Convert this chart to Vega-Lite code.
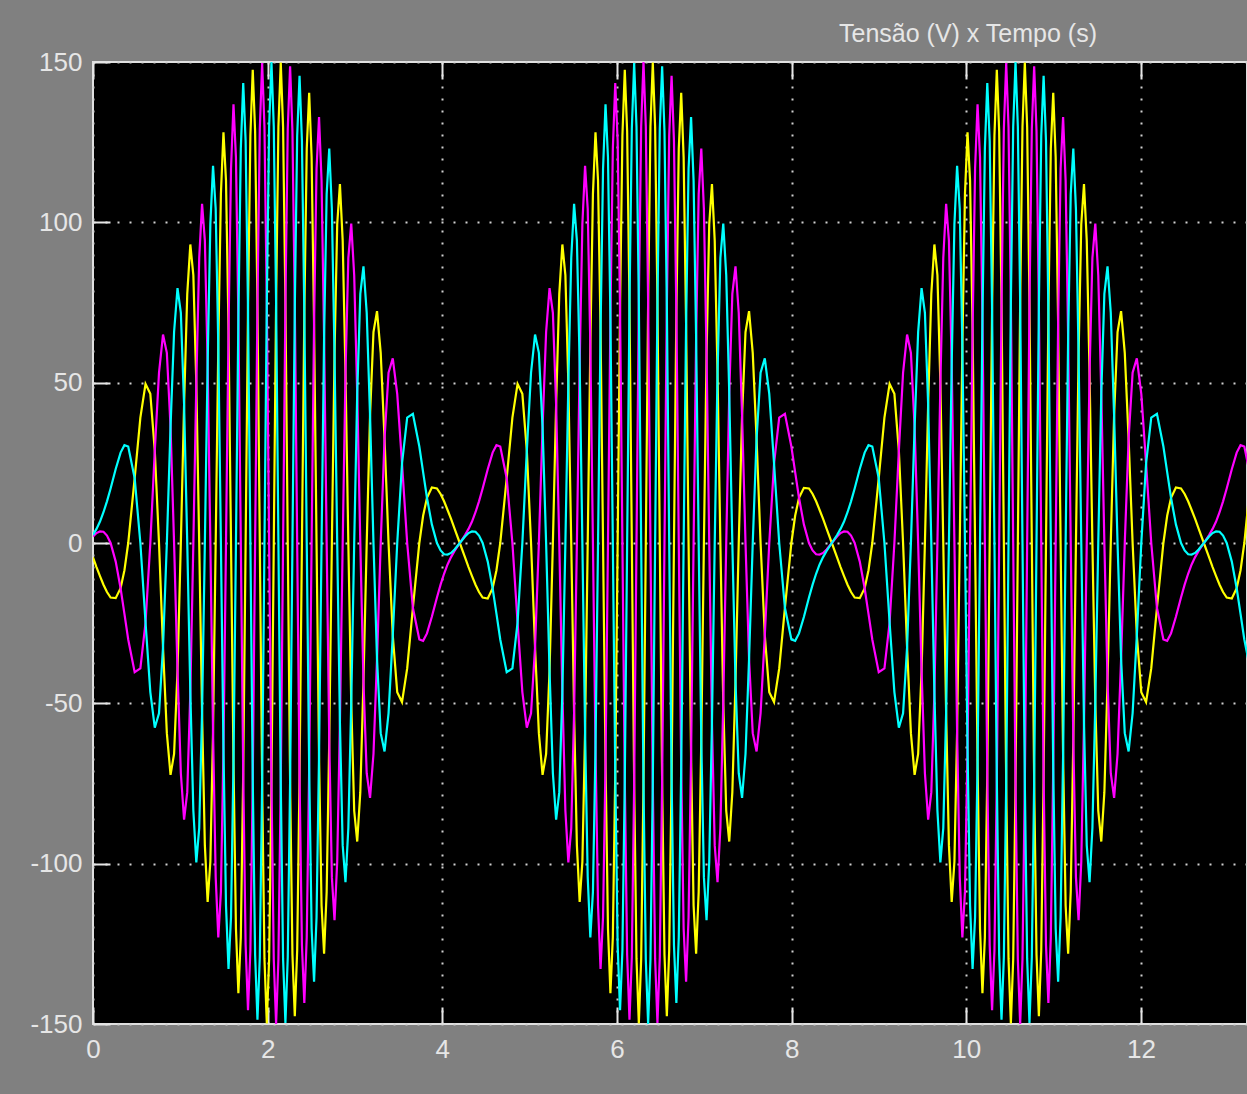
{
"$schema":"https://vega.github.io/schema/vega-lite/v6.json",
"width":1154,"height":962,
"autosize":{"type":"none"},
"padding":{"left":93,"top":62,"right":0,"bottom":70},
"background":"#808080",
"title":{"text":"Tensão (V) x Tempo (s)","anchor":"end","frame":"group","dx":-150,"dy":37,"offset":19,"baseline":"alphabetic","fontSize":25,"font":"Liberation Sans","fontWeight":"normal","color":"#E6E6E6"},
"config":{"view":{"fill":"#000000","stroke":"#E0E0E0","strokeWidth":2}},
"data":{"values":[
{"t":0,"c":2.5,"m":2,"y":-4.5},
{"t":0.04,"c":4.4,"m":3.1,"y":-7.5},
{"t":0.08,"c":6.7,"m":3.6,"y":-10.3},
{"t":0.12,"c":9.6,"m":3.5,"y":-13},
{"t":0.16,"c":13,"m":2.3,"y":-15.3},
{"t":0.2016,"c":17,"m":0,"y":-17},
{"t":0.26,"c":23.1,"m":-5.8,"y":-17.2},
{"t":0.3159,"c":28.2,"m":-14.1,"y":-14.1},
{"t":0.36,"c":30.5,"m":-22.1,"y":-8.5},
{"t":0.4033,"c":30.1,"m":-30.1,"y":0},
{"t":0.4772,"c":20.2,"m":-40.3,"y":20.2},
{"t":0.5424,"c":0,"m":-39.1,"y":39.1},
{"t":0.6016,"c":-24.8,"m":-24.8,"y":49.6},
{"t":0.6564,"c":-46.5,"m":0,"y":46.5},
{"t":0.7075,"c":-57.6,"m":28.8,"y":28.8},
{"t":0.7558,"c":-53.1,"m":53.1,"y":0},
{"t":0.8017,"c":-32.5,"m":65,"y":-32.5},
{"t":0.8456,"c":0,"m":59.3,"y":-59.3},
{"t":0.8878,"c":36.2,"m":36.2,"y":-72.3},
{"t":0.9284,"c":65.8,"m":0,"y":-65.8},
{"t":0.9677,"c":79.5,"m":-39.8,"y":-39.8},
{"t":1.0059,"c":71.8,"m":-71.8,"y":0},
{"t":1.043,"c":43.2,"m":-86.3,"y":43.2},
{"t":1.0792,"c":0,"m":-77.7,"y":77.7},
{"t":1.1145,"c":-46.6,"m":-46.6,"y":93.1},
{"t":1.1491,"c":-83.5,"m":0,"y":83.5},
{"t":1.183,"c":-99.6,"m":49.8,"y":49.8},
{"t":1.2162,"c":-88.9,"m":88.9,"y":0},
{"t":1.2488,"c":-52.9,"m":105.8,"y":-52.9},
{"t":1.2809,"c":0,"m":94.3,"y":-94.3},
{"t":1.3126,"c":56,"m":56,"y":-111.9},
{"t":1.3437,"c":99.4,"m":0,"y":-99.4},
{"t":1.3745,"c":117.6,"m":-58.8,"y":-58.8},
{"t":1.4048,"c":104.2,"m":-104.2,"y":0},
{"t":1.4348,"c":61.5,"m":-123,"y":61.5},
{"t":1.4645,"c":0,"m":-108.8,"y":108.8},
{"t":1.4939,"c":-64.1,"m":-64.1,"y":128.1},
{"t":1.5229,"c":-113,"m":0,"y":113},
{"t":1.5518,"c":-132.8,"m":66.4,"y":66.4},
{"t":1.5803,"c":-116.7,"m":116.7,"y":0},
{"t":1.6087,"c":-68.4,"m":136.8,"y":-68.4},
{"t":1.6368,"c":0,"m":120.2,"y":-120.2},
{"t":1.6647,"c":70.2,"m":70.2,"y":-140.4},
{"t":1.6925,"c":122.9,"m":0,"y":-122.9},
{"t":1.7201,"c":143.4,"m":-71.7,"y":-71.7},
{"t":1.7476,"c":125.4,"m":-125.4,"y":0},
{"t":1.7749,"c":72.9,"m":-145.7,"y":72.9},
{"t":1.8021,"c":0,"m":-127,"y":127},
{"t":1.8292,"c":-73.8,"m":-73.8,"y":147.6},
{"t":1.8562,"c":-128.4,"m":0,"y":128.4},
{"t":1.8831,"c":-148.7,"m":74.4,"y":74.4},
{"t":1.9099,"c":-129.2,"m":129.2,"y":0},
{"t":1.9367,"c":-74.9,"m":149.7,"y":-74.9},
{"t":1.9634,"c":0,"m":129.7,"y":-129.7},
{"t":1.9901,"c":74.9,"m":74.9,"y":-149.8},
{"t":2.0168,"c":129.8,"m":0,"y":-129.8},
{"t":2.0434,"c":150,"m":-75,"y":-75},
{"t":2.07,"c":129.9,"m":-129.9,"y":0},
{"t":2.0966,"c":75,"m":-150,"y":75},
{"t":2.1232,"c":0,"m":-129.8,"y":129.8},
{"t":2.1499,"c":-74.9,"m":-74.9,"y":149.8},
{"t":2.1766,"c":-129.7,"m":0,"y":129.7},
{"t":2.2033,"c":-149.7,"m":74.9,"y":74.9},
{"t":2.2301,"c":-129.2,"m":129.2,"y":0},
{"t":2.2569,"c":-74.4,"m":148.7,"y":-74.4},
{"t":2.2838,"c":0,"m":128.4,"y":-128.4},
{"t":2.3108,"c":73.8,"m":73.8,"y":-147.6},
{"t":2.3379,"c":127,"m":0,"y":-127},
{"t":2.3651,"c":145.7,"m":-72.9,"y":-72.9},
{"t":2.3924,"c":125.4,"m":-125.4,"y":0},
{"t":2.4199,"c":71.7,"m":-143.4,"y":71.7},
{"t":2.4475,"c":0,"m":-122.9,"y":122.9},
{"t":2.4753,"c":-70.2,"m":-70.2,"y":140.4},
{"t":2.5032,"c":-120.2,"m":0,"y":120.2},
{"t":2.5313,"c":-136.8,"m":68.4,"y":68.4},
{"t":2.5597,"c":-116.7,"m":116.7,"y":0},
{"t":2.5882,"c":-66.4,"m":132.8,"y":-66.4},
{"t":2.6171,"c":0,"m":113,"y":-113},
{"t":2.6461,"c":64.1,"m":64.1,"y":-128.1},
{"t":2.6755,"c":108.8,"m":0,"y":-108.8},
{"t":2.7052,"c":123,"m":-61.5,"y":-61.5},
{"t":2.7352,"c":104.2,"m":-104.2,"y":0},
{"t":2.7655,"c":58.8,"m":-117.6,"y":58.8},
{"t":2.7963,"c":0,"m":-99.4,"y":99.4},
{"t":2.8274,"c":-56,"m":-56,"y":111.9},
{"t":2.8591,"c":-94.3,"m":0,"y":94.3},
{"t":2.8912,"c":-105.8,"m":52.9,"y":52.9},
{"t":2.9238,"c":-88.9,"m":88.9,"y":0},
{"t":2.957,"c":-49.8,"m":99.6,"y":-49.8},
{"t":2.9909,"c":0,"m":83.5,"y":-83.5},
{"t":3.0255,"c":46.6,"m":46.6,"y":-93.1},
{"t":3.0608,"c":77.7,"m":0,"y":-77.7},
{"t":3.097,"c":86.3,"m":-43.2,"y":-43.2},
{"t":3.1341,"c":71.8,"m":-71.8,"y":0},
{"t":3.1723,"c":39.8,"m":-79.5,"y":39.8},
{"t":3.2116,"c":0,"m":-65.8,"y":65.8},
{"t":3.2522,"c":-36.2,"m":-36.2,"y":72.3},
{"t":3.2944,"c":-59.3,"m":0,"y":59.3},
{"t":3.3383,"c":-65,"m":32.5,"y":32.5},
{"t":3.3842,"c":-53.1,"m":53.1,"y":0},
{"t":3.4325,"c":-28.8,"m":57.6,"y":-28.8},
{"t":3.4836,"c":0,"m":46.5,"y":-46.5},
{"t":3.5384,"c":24.8,"m":24.8,"y":-49.6},
{"t":3.5976,"c":39.1,"m":0,"y":-39.1},
{"t":3.6628,"c":40.3,"m":-20.2,"y":-20.2},
{"t":3.7367,"c":30.1,"m":-30.1,"y":0},
{"t":3.78,"c":22.1,"m":-30.5,"y":8.5},
{"t":3.8241,"c":14.1,"m":-28.2,"y":14.1},
{"t":3.88,"c":5.8,"m":-23,"y":17.3},
{"t":3.9384,"c":0,"m":-17,"y":17},
{"t":3.98,"c":-2.3,"m":-13,"y":15.3},
{"t":4.02,"c":-3.5,"m":-9.6,"y":13},
{"t":4.06,"c":-3.6,"m":-6.7,"y":10.3},
{"t":4.1,"c":-3.1,"m":-4.4,"y":7.5},
{"t":4.14,"c":-2,"m":-2.5,"y":4.5},
{"t":4.2,"c":0,"m":0,"y":0},
{"t":4.26,"c":2,"m":2.5,"y":-4.5},
{"t":4.3,"c":3.1,"m":4.4,"y":-7.5},
{"t":4.34,"c":3.6,"m":6.7,"y":-10.3},
{"t":4.38,"c":3.5,"m":9.6,"y":-13},
{"t":4.42,"c":2.3,"m":13,"y":-15.3},
{"t":4.4616,"c":0,"m":17,"y":-17},
{"t":4.52,"c":-5.8,"m":23,"y":-17.3},
{"t":4.5759,"c":-14.1,"m":28.2,"y":-14.1},
{"t":4.62,"c":-22.1,"m":30.5,"y":-8.5},
{"t":4.6633,"c":-30.1,"m":30.1,"y":0},
{"t":4.7372,"c":-40.3,"m":20.2,"y":20.2},
{"t":4.8024,"c":-39.1,"m":0,"y":39.1},
{"t":4.8616,"c":-24.8,"m":-24.8,"y":49.6},
{"t":4.9164,"c":0,"m":-46.5,"y":46.5},
{"t":4.9675,"c":28.8,"m":-57.6,"y":28.8},
{"t":5.0158,"c":53.1,"m":-53.1,"y":0},
{"t":5.0617,"c":65,"m":-32.5,"y":-32.5},
{"t":5.1056,"c":59.3,"m":0,"y":-59.3},
{"t":5.1478,"c":36.2,"m":36.2,"y":-72.3},
{"t":5.1884,"c":0,"m":65.8,"y":-65.8},
{"t":5.2277,"c":-39.8,"m":79.5,"y":-39.8},
{"t":5.2659,"c":-71.8,"m":71.8,"y":0},
{"t":5.303,"c":-86.3,"m":43.2,"y":43.2},
{"t":5.3392,"c":-77.7,"m":0,"y":77.7},
{"t":5.3745,"c":-46.6,"m":-46.6,"y":93.1},
{"t":5.4091,"c":0,"m":-83.5,"y":83.5},
{"t":5.443,"c":49.8,"m":-99.6,"y":49.8},
{"t":5.4762,"c":88.9,"m":-88.9,"y":0},
{"t":5.5088,"c":105.8,"m":-52.9,"y":-52.9},
{"t":5.5409,"c":94.3,"m":0,"y":-94.3},
{"t":5.5726,"c":56,"m":56,"y":-111.9},
{"t":5.6037,"c":0,"m":99.4,"y":-99.4},
{"t":5.6345,"c":-58.8,"m":117.6,"y":-58.8},
{"t":5.6648,"c":-104.2,"m":104.2,"y":0},
{"t":5.6948,"c":-123,"m":61.5,"y":61.5},
{"t":5.7245,"c":-108.8,"m":0,"y":108.8},
{"t":5.7539,"c":-64.1,"m":-64.1,"y":128.1},
{"t":5.7829,"c":0,"m":-113,"y":113},
{"t":5.8118,"c":66.4,"m":-132.8,"y":66.4},
{"t":5.8403,"c":116.7,"m":-116.7,"y":0},
{"t":5.8687,"c":136.8,"m":-68.4,"y":-68.4},
{"t":5.8968,"c":120.2,"m":0,"y":-120.2},
{"t":5.9247,"c":70.2,"m":70.2,"y":-140.4},
{"t":5.9525,"c":0,"m":122.9,"y":-122.9},
{"t":5.9801,"c":-71.7,"m":143.4,"y":-71.7},
{"t":6.0076,"c":-125.4,"m":125.4,"y":0},
{"t":6.0349,"c":-145.7,"m":72.9,"y":72.9},
{"t":6.0621,"c":-127,"m":0,"y":127},
{"t":6.0892,"c":-73.8,"m":-73.8,"y":147.6},
{"t":6.1162,"c":0,"m":-128.4,"y":128.4},
{"t":6.1431,"c":74.4,"m":-148.7,"y":74.4},
{"t":6.1699,"c":129.2,"m":-129.2,"y":0},
{"t":6.1967,"c":149.7,"m":-74.9,"y":-74.9},
{"t":6.2234,"c":129.7,"m":0,"y":-129.7},
{"t":6.2501,"c":74.9,"m":74.9,"y":-149.8},
{"t":6.2768,"c":0,"m":129.8,"y":-129.8},
{"t":6.3034,"c":-75,"m":150,"y":-75},
{"t":6.33,"c":-129.9,"m":129.9,"y":0},
{"t":6.3566,"c":-150,"m":75,"y":75},
{"t":6.3832,"c":-129.8,"m":0,"y":129.8},
{"t":6.4099,"c":-74.9,"m":-74.9,"y":149.8},
{"t":6.4366,"c":0,"m":-129.7,"y":129.7},
{"t":6.4633,"c":74.9,"m":-149.7,"y":74.9},
{"t":6.4901,"c":129.2,"m":-129.2,"y":0},
{"t":6.5169,"c":148.7,"m":-74.4,"y":-74.4},
{"t":6.5438,"c":128.4,"m":0,"y":-128.4},
{"t":6.5708,"c":73.8,"m":73.8,"y":-147.6},
{"t":6.5979,"c":0,"m":127,"y":-127},
{"t":6.6251,"c":-72.9,"m":145.7,"y":-72.9},
{"t":6.6524,"c":-125.4,"m":125.4,"y":0},
{"t":6.6799,"c":-143.4,"m":71.7,"y":71.7},
{"t":6.7075,"c":-122.9,"m":0,"y":122.9},
{"t":6.7353,"c":-70.2,"m":-70.2,"y":140.4},
{"t":6.7632,"c":0,"m":-120.2,"y":120.2},
{"t":6.7913,"c":68.4,"m":-136.8,"y":68.4},
{"t":6.8197,"c":116.7,"m":-116.7,"y":0},
{"t":6.8482,"c":132.8,"m":-66.4,"y":-66.4},
{"t":6.8771,"c":113,"m":0,"y":-113},
{"t":6.9061,"c":64.1,"m":64.1,"y":-128.1},
{"t":6.9355,"c":0,"m":108.8,"y":-108.8},
{"t":6.9652,"c":-61.5,"m":123,"y":-61.5},
{"t":6.9952,"c":-104.2,"m":104.2,"y":0},
{"t":7.0255,"c":-117.6,"m":58.8,"y":58.8},
{"t":7.0563,"c":-99.4,"m":0,"y":99.4},
{"t":7.0874,"c":-56,"m":-56,"y":111.9},
{"t":7.1191,"c":0,"m":-94.3,"y":94.3},
{"t":7.1512,"c":52.9,"m":-105.8,"y":52.9},
{"t":7.1838,"c":88.9,"m":-88.9,"y":0},
{"t":7.217,"c":99.6,"m":-49.8,"y":-49.8},
{"t":7.2509,"c":83.5,"m":0,"y":-83.5},
{"t":7.2855,"c":46.6,"m":46.6,"y":-93.1},
{"t":7.3208,"c":0,"m":77.7,"y":-77.7},
{"t":7.357,"c":-43.2,"m":86.3,"y":-43.2},
{"t":7.3941,"c":-71.8,"m":71.8,"y":0},
{"t":7.4323,"c":-79.5,"m":39.8,"y":39.8},
{"t":7.4716,"c":-65.8,"m":0,"y":65.8},
{"t":7.5122,"c":-36.2,"m":-36.2,"y":72.3},
{"t":7.5544,"c":0,"m":-59.3,"y":59.3},
{"t":7.5983,"c":32.5,"m":-65,"y":32.5},
{"t":7.6442,"c":53.1,"m":-53.1,"y":0},
{"t":7.6925,"c":57.6,"m":-28.8,"y":-28.8},
{"t":7.7436,"c":46.5,"m":0,"y":-46.5},
{"t":7.7984,"c":24.8,"m":24.8,"y":-49.6},
{"t":7.8576,"c":0,"m":39.1,"y":-39.1},
{"t":7.9228,"c":-20.2,"m":40.3,"y":-20.2},
{"t":7.9967,"c":-30.1,"m":30.1,"y":0},
{"t":8.04,"c":-30.5,"m":22.1,"y":8.5},
{"t":8.0841,"c":-28.2,"m":14.1,"y":14.1},
{"t":8.14,"c":-23.1,"m":5.8,"y":17.2},
{"t":8.1984,"c":-17,"m":0,"y":17},
{"t":8.24,"c":-13,"m":-2.3,"y":15.3},
{"t":8.28,"c":-9.6,"m":-3.5,"y":13},
{"t":8.32,"c":-6.7,"m":-3.6,"y":10.3},
{"t":8.36,"c":-4.4,"m":-3.1,"y":7.5},
{"t":8.4,"c":-2.5,"m":-2,"y":4.5},
{"t":8.46,"c":0,"m":0,"y":0},
{"t":8.52,"c":2.5,"m":2,"y":-4.5},
{"t":8.56,"c":4.4,"m":3.1,"y":-7.5},
{"t":8.6,"c":6.7,"m":3.6,"y":-10.3},
{"t":8.64,"c":9.6,"m":3.5,"y":-13},
{"t":8.68,"c":13,"m":2.3,"y":-15.3},
{"t":8.7216,"c":17,"m":0,"y":-17},
{"t":8.78,"c":23.1,"m":-5.8,"y":-17.2},
{"t":8.8359,"c":28.2,"m":-14.1,"y":-14.1},
{"t":8.88,"c":30.5,"m":-22.1,"y":-8.5},
{"t":8.9233,"c":30.1,"m":-30.1,"y":0},
{"t":8.9972,"c":20.2,"m":-40.3,"y":20.2},
{"t":9.0624,"c":0,"m":-39.1,"y":39.1},
{"t":9.1216,"c":-24.8,"m":-24.8,"y":49.6},
{"t":9.1764,"c":-46.5,"m":0,"y":46.5},
{"t":9.2275,"c":-57.6,"m":28.8,"y":28.8},
{"t":9.2758,"c":-53.1,"m":53.1,"y":0},
{"t":9.3217,"c":-32.5,"m":65,"y":-32.5},
{"t":9.3656,"c":0,"m":59.3,"y":-59.3},
{"t":9.4078,"c":36.2,"m":36.2,"y":-72.3},
{"t":9.4484,"c":65.8,"m":0,"y":-65.8},
{"t":9.4877,"c":79.5,"m":-39.8,"y":-39.8},
{"t":9.5259,"c":71.8,"m":-71.8,"y":0},
{"t":9.563,"c":43.2,"m":-86.3,"y":43.2},
{"t":9.5992,"c":0,"m":-77.7,"y":77.7},
{"t":9.6345,"c":-46.6,"m":-46.6,"y":93.1},
{"t":9.6691,"c":-83.5,"m":0,"y":83.5},
{"t":9.703,"c":-99.6,"m":49.8,"y":49.8},
{"t":9.7362,"c":-88.9,"m":88.9,"y":0},
{"t":9.7688,"c":-52.9,"m":105.8,"y":-52.9},
{"t":9.8009,"c":0,"m":94.3,"y":-94.3},
{"t":9.8326,"c":56,"m":56,"y":-111.9},
{"t":9.8637,"c":99.4,"m":0,"y":-99.4},
{"t":9.8945,"c":117.6,"m":-58.8,"y":-58.8},
{"t":9.9248,"c":104.2,"m":-104.2,"y":0},
{"t":9.9548,"c":61.5,"m":-123,"y":61.5},
{"t":9.9845,"c":0,"m":-108.8,"y":108.8},
{"t":10.0139,"c":-64.1,"m":-64.1,"y":128.1},
{"t":10.0429,"c":-113,"m":0,"y":113},
{"t":10.0718,"c":-132.8,"m":66.4,"y":66.4},
{"t":10.1003,"c":-116.7,"m":116.7,"y":0},
{"t":10.1287,"c":-68.4,"m":136.8,"y":-68.4},
{"t":10.1568,"c":0,"m":120.2,"y":-120.2},
{"t":10.1847,"c":70.2,"m":70.2,"y":-140.4},
{"t":10.2125,"c":122.9,"m":0,"y":-122.9},
{"t":10.2401,"c":143.4,"m":-71.7,"y":-71.7},
{"t":10.2676,"c":125.4,"m":-125.4,"y":0},
{"t":10.2949,"c":72.9,"m":-145.7,"y":72.9},
{"t":10.3221,"c":0,"m":-127,"y":127},
{"t":10.3492,"c":-73.8,"m":-73.8,"y":147.6},
{"t":10.3762,"c":-128.4,"m":0,"y":128.4},
{"t":10.4031,"c":-148.7,"m":74.4,"y":74.4},
{"t":10.4299,"c":-129.2,"m":129.2,"y":0},
{"t":10.4567,"c":-74.9,"m":149.7,"y":-74.9},
{"t":10.4834,"c":0,"m":129.7,"y":-129.7},
{"t":10.5101,"c":74.9,"m":74.9,"y":-149.8},
{"t":10.5368,"c":129.8,"m":0,"y":-129.8},
{"t":10.5634,"c":150,"m":-75,"y":-75},
{"t":10.59,"c":129.9,"m":-129.9,"y":0},
{"t":10.6166,"c":75,"m":-150,"y":75},
{"t":10.6432,"c":0,"m":-129.8,"y":129.8},
{"t":10.6699,"c":-74.9,"m":-74.9,"y":149.8},
{"t":10.6966,"c":-129.7,"m":0,"y":129.7},
{"t":10.7233,"c":-149.7,"m":74.9,"y":74.9},
{"t":10.7501,"c":-129.2,"m":129.2,"y":0},
{"t":10.7769,"c":-74.4,"m":148.7,"y":-74.4},
{"t":10.8038,"c":0,"m":128.4,"y":-128.4},
{"t":10.8308,"c":73.8,"m":73.8,"y":-147.6},
{"t":10.8579,"c":127,"m":0,"y":-127},
{"t":10.8851,"c":145.7,"m":-72.9,"y":-72.9},
{"t":10.9124,"c":125.4,"m":-125.4,"y":0},
{"t":10.9399,"c":71.7,"m":-143.4,"y":71.7},
{"t":10.9675,"c":0,"m":-122.9,"y":122.9},
{"t":10.9953,"c":-70.2,"m":-70.2,"y":140.4},
{"t":11.0232,"c":-120.2,"m":0,"y":120.2},
{"t":11.0513,"c":-136.8,"m":68.4,"y":68.4},
{"t":11.0797,"c":-116.7,"m":116.7,"y":0},
{"t":11.1082,"c":-66.4,"m":132.8,"y":-66.4},
{"t":11.1371,"c":0,"m":113,"y":-113},
{"t":11.1661,"c":64.1,"m":64.1,"y":-128.1},
{"t":11.1955,"c":108.8,"m":0,"y":-108.8},
{"t":11.2252,"c":123,"m":-61.5,"y":-61.5},
{"t":11.2552,"c":104.2,"m":-104.2,"y":0},
{"t":11.2855,"c":58.8,"m":-117.6,"y":58.8},
{"t":11.3163,"c":0,"m":-99.4,"y":99.4},
{"t":11.3474,"c":-56,"m":-56,"y":111.9},
{"t":11.3791,"c":-94.3,"m":0,"y":94.3},
{"t":11.4112,"c":-105.8,"m":52.9,"y":52.9},
{"t":11.4438,"c":-88.9,"m":88.9,"y":0},
{"t":11.477,"c":-49.8,"m":99.6,"y":-49.8},
{"t":11.5109,"c":0,"m":83.5,"y":-83.5},
{"t":11.5455,"c":46.6,"m":46.6,"y":-93.1},
{"t":11.5808,"c":77.7,"m":0,"y":-77.7},
{"t":11.617,"c":86.3,"m":-43.2,"y":-43.2},
{"t":11.6541,"c":71.8,"m":-71.8,"y":0},
{"t":11.6923,"c":39.8,"m":-79.5,"y":39.8},
{"t":11.7316,"c":0,"m":-65.8,"y":65.8},
{"t":11.7722,"c":-36.2,"m":-36.2,"y":72.3},
{"t":11.8144,"c":-59.3,"m":0,"y":59.3},
{"t":11.8583,"c":-65,"m":32.5,"y":32.5},
{"t":11.9042,"c":-53.1,"m":53.1,"y":0},
{"t":11.9525,"c":-28.8,"m":57.6,"y":-28.8},
{"t":12.0036,"c":0,"m":46.5,"y":-46.5},
{"t":12.0584,"c":24.8,"m":24.8,"y":-49.6},
{"t":12.1176,"c":39.1,"m":0,"y":-39.1},
{"t":12.1828,"c":40.3,"m":-20.2,"y":-20.2},
{"t":12.2567,"c":30.1,"m":-30.1,"y":0},
{"t":12.3,"c":22.1,"m":-30.5,"y":8.5},
{"t":12.3441,"c":14.1,"m":-28.2,"y":14.1},
{"t":12.4,"c":5.8,"m":-23,"y":17.3},
{"t":12.4584,"c":0,"m":-17,"y":17},
{"t":12.5,"c":-2.3,"m":-13,"y":15.3},
{"t":12.54,"c":-3.5,"m":-9.6,"y":13},
{"t":12.58,"c":-3.6,"m":-6.7,"y":10.3},
{"t":12.62,"c":-3.1,"m":-4.4,"y":7.5},
{"t":12.66,"c":-2,"m":-2.5,"y":4.5},
{"t":12.72,"c":0,"m":0,"y":0},
{"t":12.78,"c":2,"m":2.5,"y":-4.5},
{"t":12.82,"c":3.1,"m":4.4,"y":-7.5},
{"t":12.86,"c":3.6,"m":6.7,"y":-10.3},
{"t":12.9,"c":3.5,"m":9.6,"y":-13},
{"t":12.94,"c":2.3,"m":13,"y":-15.3},
{"t":12.9816,"c":0,"m":17,"y":-17},
{"t":13.04,"c":-5.8,"m":23,"y":-17.3},
{"t":13.0959,"c":-14.1,"m":28.2,"y":-14.1},
{"t":13.14,"c":-22.1,"m":30.5,"y":-8.5},
{"t":13.1833,"c":-30.1,"m":30.1,"y":0},
{"t":13.2572,"c":-40.3,"m":20.2,"y":20.2}
]},
"layer":[
{"mark":{"type":"line","color":"#FFFF00","strokeWidth":2.2,"clip":true},
 "encoding":{
  "x":{"field":"t","type":"quantitative","scale":{"domain":[0,13.214],"nice":false,"zero":false},
   "axis":{"orient":"bottom","values":[0,2,4,6,8,10,12],"title":null,"domain":false,"grid":true,"gridColor":"#D0D0D0","gridDash":[2,10],"gridWidth":2,"gridOpacity":1,"ticks":true,"tickSize":-17,"tickWidth":2,"tickColor":"#E6E6E6","labelPadding":29,"labelFlush":false,"labelOverlap":false,"labelFont":"Liberation Sans","labelFontSize":26,"labelColor":"#E6E6E6"}},
  "y":{"field":"y","type":"quantitative","scale":{"domain":[-150,150],"nice":false,"zero":false},
   "axis":{"values":[-150,-100,-50,0,50,100,150],"title":null,"domain":false,"grid":true,"gridColor":"#D0D0D0","gridDash":[2,10],"gridWidth":2,"gridOpacity":1,"ticks":true,"tickSize":-17,"tickWidth":2,"tickColor":"#E6E6E6","labelPadding":28,"labelFlush":false,"labelOverlap":false,"labelFont":"Liberation Sans","labelFontSize":26,"labelColor":"#E6E6E6","labelExpr":"'' + datum.value"}}
 }},
{"mark":{"type":"line","color":"#FF00FF","strokeWidth":2.2,"clip":true},
 "encoding":{
  "x":{"field":"t","type":"quantitative",
   "axis":{"orient":"top","values":[0,2,4,6,8,10,12],"title":null,"domain":false,"grid":false,"labels":false,"ticks":true,"tickSize":-17,"tickWidth":2,"tickColor":"#E6E6E6"}},
  "y":{"field":"m","type":"quantitative",
   "axis":{"values":[-150,-100,-50,0,50,100,150],"title":null,"domain":false,"grid":true,"gridColor":"#D0D0D0","gridDash":[2,10],"gridWidth":2,"gridOpacity":1,"ticks":true,"tickSize":-17,"tickWidth":2,"tickColor":"#E6E6E6","labelPadding":28,"labelFlush":false,"labelOverlap":false,"labelFont":"Liberation Sans","labelFontSize":26,"labelColor":"#E6E6E6","labelExpr":"'' + datum.value"}}
 }},
{"mark":{"type":"line","color":"#00FFFF","strokeWidth":2.2,"clip":true},
 "encoding":{
  "x":{"field":"t","type":"quantitative","axis":null},
  "y":{"field":"c","type":"quantitative",
   "axis":{"values":[-150,-100,-50,0,50,100,150],"title":null,"domain":false,"grid":true,"gridColor":"#D0D0D0","gridDash":[2,10],"gridWidth":2,"gridOpacity":1,"ticks":true,"tickSize":-17,"tickWidth":2,"tickColor":"#E6E6E6","labelPadding":28,"labelFlush":false,"labelOverlap":false,"labelFont":"Liberation Sans","labelFontSize":26,"labelColor":"#E6E6E6","labelExpr":"'' + datum.value"}}
 }}
],
"resolve":{"axis":{"x":"independent"}}
}
